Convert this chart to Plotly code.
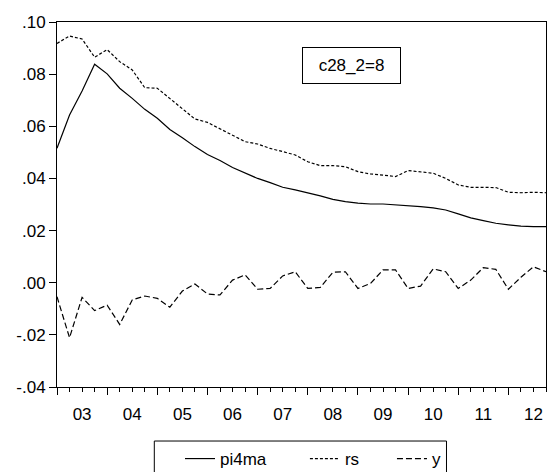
import plotly.graph_objects as go

quarters = list(range(40))  # 2003Q1 .. 2012Q4
year_labels = ["03", "04", "05", "06", "07", "08", "09", "10", "11", "12"]

pi4ma = [0.0516, 0.0643, 0.0735, 0.0838, 0.0801, 0.0746, 0.0707, 0.0665, 0.0631, 0.0588,
         0.0556, 0.0522, 0.0492, 0.0469, 0.0442, 0.0421, 0.0400, 0.0384, 0.0366, 0.0356,
         0.0345, 0.0333, 0.0320, 0.0311, 0.0305, 0.0302, 0.0302, 0.0299, 0.0295, 0.0292,
         0.0287, 0.0279, 0.0264, 0.0249, 0.0238, 0.0228, 0.0222, 0.0217, 0.0215, 0.0215]

rs = [0.0918, 0.0946, 0.0935, 0.0865, 0.0894, 0.0848, 0.0816, 0.0748, 0.0746, 0.0707,
      0.0666, 0.0628, 0.0615, 0.0590, 0.0565, 0.0541, 0.0532, 0.0515, 0.0503, 0.0490,
      0.0464, 0.0449, 0.0449, 0.0445, 0.0426, 0.0417, 0.0413, 0.0407, 0.0430, 0.0426,
      0.0420, 0.0400, 0.0375, 0.0366, 0.0366, 0.0365, 0.0347, 0.0345, 0.0347, 0.0345]

y = [-0.0054, -0.0211, -0.0056, -0.0107, -0.0086, -0.0160, -0.0066, -0.0051, -0.0060, -0.0094,
     -0.0032, -0.0005, -0.0043, -0.0047, 0.0010, 0.0030, -0.0025, -0.0022, 0.0026, 0.0042,
     -0.0022, -0.0018, 0.0040, 0.0042, -0.0022, -0.0003, 0.0049, 0.0049, -0.0022, -0.0013,
     0.0053, 0.0042, -0.0022, 0.0010, 0.0058, 0.0051, -0.0025, 0.0021, 0.0061, 0.0042]

ytick_vals = [-0.04, -0.02, 0.00, 0.02, 0.04, 0.06, 0.08, 0.10]
ytick_text = ["-.04", "-.02", ".00", ".02", ".04", ".06", ".08", ".10"]

FONT = "Liberation Sans, Arial, sans-serif"
FS = 17

fig = go.Figure()
fig.add_trace(go.Scatter(x=quarters, y=pi4ma, name="pi4ma", mode="lines", legend="legend",
                         line=dict(color="black", width=1.2)))
fig.add_trace(go.Scatter(x=quarters, y=rs, name="rs", mode="lines", legend="legend2",
                         line=dict(color="black", width=1.2, dash="3px,2px")))
fig.add_trace(go.Scatter(x=quarters, y=y, name="y", mode="lines", xaxis="x2", legend="legend3",
                         line=dict(color="black", width=1.2, dash="6px,3px")))

leg_common = dict(orientation="h", y=-0.148, xanchor="left", yanchor="top",
                  borderwidth=0, bgcolor="rgba(0,0,0,0)",
                  font=dict(family=FONT, size=FS, color="black"))

fig.update_layout(
    width=547, height=472,
    margin=dict(l=57, r=1, t=22, b=85, autoexpand=False),
    paper_bgcolor="white", plot_bgcolor="white",
    font=dict(family=FONT, size=FS, color="black"),
    showlegend=True,
    legend=dict(x=0.2515, **leg_common),
    legend2=dict(x=0.507, **leg_common),
    legend3=dict(x=0.685, **leg_common),
    xaxis=dict(range=[0, 39], showgrid=False, zeroline=False, automargin=False,
               showline=True, mirror=True, linecolor="black", linewidth=1,
               tickmode="array", tickvals=[0, 4, 8, 12, 16, 20, 24, 28, 32, 36],
               ticks="outside", ticklen=7, tickcolor="black", tickwidth=1,
               showticklabels=False,
               minor=dict(ticks="outside", ticklen=4, tickcolor="black", tickwidth=1,
                          tick0=0, dtick=1)),
    xaxis2=dict(range=[0, 39], overlaying="x", anchor="y", side="bottom", automargin=False,
                showgrid=False, zeroline=False, showline=False,
                tickmode="array", tickvals=[2, 6, 10, 14, 18, 22, 26, 30, 34, 38],
                ticktext=year_labels, ticks="outside", ticklen=12,
                tickcolor="rgba(0,0,0,0)",
                tickfont=dict(family=FONT, size=FS, color="black")),
    yaxis=dict(range=[-0.04, 0.10], showgrid=False, zeroline=False, automargin=False,
               showline=True, mirror=True, linecolor="black", linewidth=1,
               tickmode="array", tickvals=ytick_vals, ticktext=ytick_text,
               ticks="outside", ticklen=7, tickcolor="black", tickwidth=1,
               tickfont=dict(family=FONT, size=FS, color="black")),
    shapes=[dict(type="rect", xref="paper", yref="paper", x0=0.199, x1=0.7965,
                 y0=-0.26, y1=-0.148, line=dict(color="black", width=1),
                 fillcolor="rgba(0,0,0,0)", layer="above")],
    annotations=[dict(text="c28_2=8", x=0.603, y=0.88, xref="paper", yref="paper",
                      xanchor="center", yanchor="middle", showarrow=False,
                      width=95, height=33, align="center", valign="middle",
                      bordercolor="black", borderwidth=1, borderpad=1,
                      bgcolor="white", font=dict(family=FONT, size=FS, color="black"))],
)

fig.write_html("out.html", config={"displayModeBar": False},
               post_script="document.body.style.margin='0';")
